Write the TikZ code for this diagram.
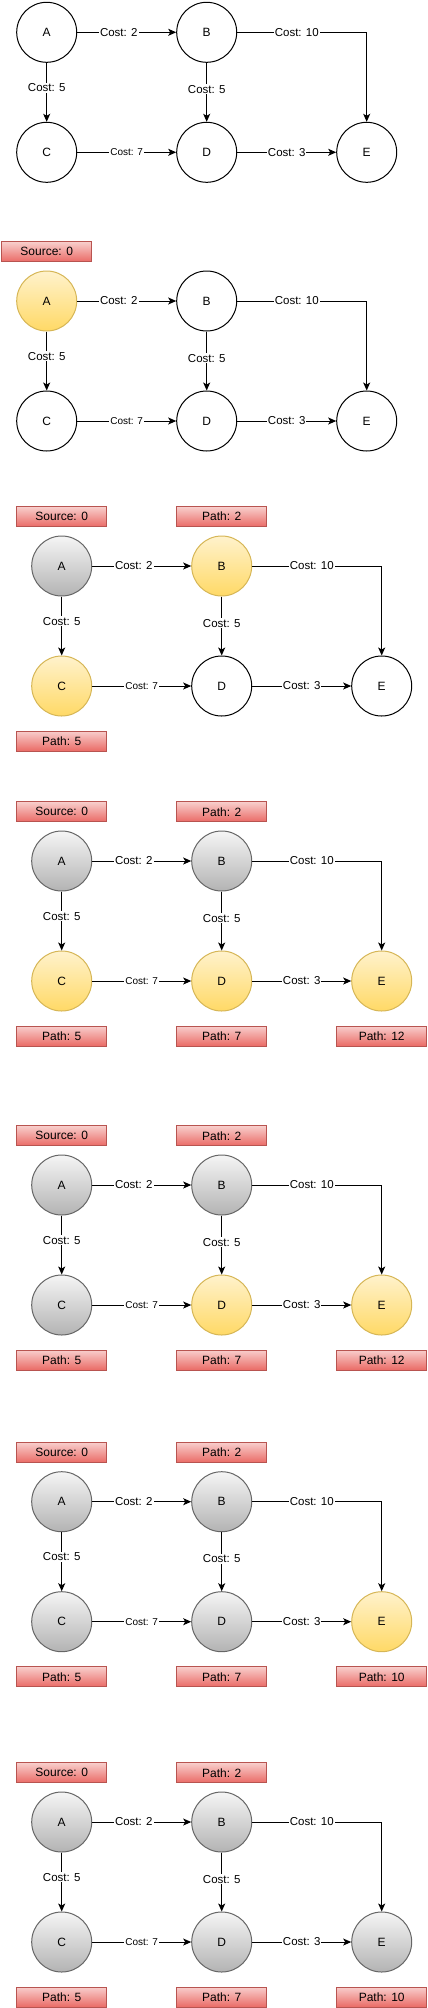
\documentclass[tikz,border=0pt]{standalone}
\usepackage{fontspec}
\setmainfont{Liberation Sans}
\usepackage{tikz}
\usetikzlibrary{arrows.meta, positioning}

% one copy of the graph, node styles for A..E
\newcommand{\dgraph}[5]{%
    \node[#1] (A) at (0,0)     {A};
    \node[#2] (B) at (160,0)   {B};
    \node[#3] (C) at (0,120)   {C};
    \node[#4] (D) at (160,120) {D};
    \node[#5] (E) at (320,120) {E};
    \draw[edge] (A) -- node[cost, pos=0.42] {Cost: 2} (B);
    \draw[edge] (A) -- node[cost, pos=0.42] {Cost: 5} (C);
    \draw[edge] (B) -- node[cost, pos=0.45] {Cost: 5} (D);
    \draw[edge] (B) -| node[cost, pos=0.23] {Cost: 10} (E);
    \draw[edge] (C) -- node[cost, font=\fontsize{10}{10}\selectfont] {Cost: 7} (D);
    \draw[edge] (D) -- node[cost] {Cost: 3} (E);
}

\definecolor{ylwtop}{HTML}{FFF2CC}
\definecolor{ylwbot}{HTML}{FFD966}
\definecolor{ylwline}{HTML}{D6B656}
\definecolor{grytop}{HTML}{F5F5F5}
\definecolor{grybot}{HTML}{B3B3B3}
\definecolor{gryline}{HTML}{666666}
\definecolor{redtop}{HTML}{F8CECC}
\definecolor{redbot}{HTML}{EA6B66}
\definecolor{redline}{HTML}{B85450}

\begin{document}
\begin{tikzpicture}[x=1pt, y=-1pt,
    vertex/.style={circle, draw, line width=1pt, minimum size=60pt, inner sep=0pt,
        font=\fontsize{12}{12}\selectfont},
    plain/.style={vertex, fill=white},
    todo/.style={vertex, draw=ylwline, top color=ylwtop, bottom color=ylwbot},
    done/.style={vertex, draw=gryline, top color=grytop, bottom color=grybot},
    tag/.style={rectangle, draw=redline, line width=1pt, top color=redtop, bottom color=redbot,
        minimum width=90pt, minimum height=20pt, inner sep=0pt, font=\fontsize{12}{12}\selectfont},
    edge/.style={line width=1pt, -{Stealth[length=8pt, width=7pt, inset=2pt]}},
    cost/.style={fill=white, inner sep=1pt, font=\fontsize{11.5}{11.5}\selectfont}]

    \useasboundingbox (0,0) rectangle (428,2008);

    % step 0: nothing visited
    \begin{scope}[shift={(46.7,32.3)}, name prefix=s0-]
        \dgraph{plain}{plain}{plain}{plain}{plain}
    \end{scope}

    % step 1: source
    \begin{scope}[shift={(46.7,301)}, name prefix=s1-]
        \dgraph{todo}{plain}{plain}{plain}{plain}
        \node[tag] (src) at (0,-49.3) {Source: 0};
    \end{scope}

    % step 2
    \begin{scope}[shift={(61.7,566)}, name prefix=s2-]
        \dgraph{done}{todo}{todo}{plain}{plain}
        \node[tag] (src) at (0,-49.3) {Source: 0};
        \node[tag] (pB) at (160,-49.3) {Path: 2};
        \node[tag] (pC) at (0,175) {Path: 5};
    \end{scope}

    % step 3
    \begin{scope}[shift={(61.7,861)}, name prefix=s3-]
        \dgraph{done}{done}{todo}{todo}{todo}
        \node[tag] (src) at (0,-49.3) {Source: 0};
        \node[tag] (pB) at (160,-49.3) {Path: 2};
        \node[tag] (pC) at (0,175) {Path: 5};
        \node[tag] (pD) at (160,175) {Path: 7};
        \node[tag] (pE) at (320,175) {Path: 12};
    \end{scope}

    % step 4
    \begin{scope}[shift={(61.7,1185)}, name prefix=s4-]
        \dgraph{done}{done}{done}{todo}{todo}
        \node[tag] (src) at (0,-49.3) {Source: 0};
        \node[tag] (pB) at (160,-49.3) {Path: 2};
        \node[tag] (pC) at (0,175) {Path: 5};
        \node[tag] (pD) at (160,175) {Path: 7};
        \node[tag] (pE) at (320,175) {Path: 12};
    \end{scope}

    % step 5: E relaxed via D
    \begin{scope}[shift={(61.7,1501.7)}, name prefix=s5-]
        \dgraph{done}{done}{done}{done}{todo}
        \node[tag] (src) at (0,-49.3) {Source: 0};
        \node[tag] (pB) at (160,-49.3) {Path: 2};
        \node[tag] (pC) at (0,175) {Path: 5};
        \node[tag] (pD) at (160,175) {Path: 7};
        \node[tag] (pE) at (320,175) {Path: 10};
    \end{scope}

    % step 6: all done
    \begin{scope}[shift={(61.7,1822)}, name prefix=s6-]
        \dgraph{done}{done}{done}{done}{done}
        \node[tag] (src) at (0,-49.3) {Source: 0};
        \node[tag] (pB) at (160,-49.3) {Path: 2};
        \node[tag] (pC) at (0,175) {Path: 5};
        \node[tag] (pD) at (160,175) {Path: 7};
        \node[tag] (pE) at (320,175) {Path: 10};
    \end{scope}
\end{tikzpicture}
\end{document}
